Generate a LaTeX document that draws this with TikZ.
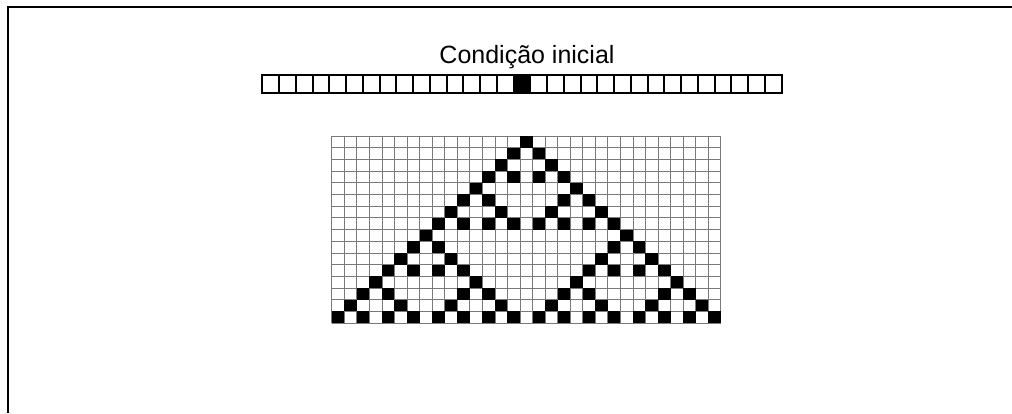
\documentclass[tikz,border=0pt]{standalone}
\usepackage{fontspec}
\setmainfont{Liberation Sans}
\usepackage{tikz}
\usetikzlibrary{positioning}
\definecolor{Ink}{HTML}{000000}
\definecolor{GridLine}{HTML}{7A7A7A}
\tikzset{
  moldura/.style={draw=Ink,line width=2pt},
  celula/.style={draw=Ink,line width=2pt,fill=white},
  viva/.style={fill=Ink},
  grade/.style={draw=GridLine,line width=0.7pt},
  titulo/.style={text=Ink,font=\fontsize{25}{30}\selectfont,inner sep=0pt,anchor=base}
}

\begin{document}
\begin{tikzpicture}[x=1pt,y=-1pt]
\useasboundingbox (0,0) rectangle (1012,413);
\draw[moldura] (8,413)--(8,7)--(1012,7);
\node[titulo] (cond) at (527,63) {Condição inicial};
% linha da condicao inicial
\foreach \i in {0,...,30}{
  \draw[celula] ({262.3+16.75*\i},75) rectangle ({262.3+16.75*(\i+1)},93);
}
\fill[viva] ({262.3+16.75*15},75) rectangle ({262.3+16.75*16},93);
\draw[celula,fill=Ink] ({262.3+16.75*15},75) rectangle ({262.3+16.75*16},93);
% evolucao (regra 90)
\foreach \i in {0,...,31}{\draw[grade] ({331.7+12.55*\i},136)--({331.7+12.55*\i},323);}
\foreach \j in {0,...,16}{\draw[grade] (331.7,{136+11.69*\j})--(720.75,{136+11.69*\j});}
\foreach \r/\cs in {0/{15},1/{14,16},2/{13,17},3/{12,14,16,18},4/{11,19},5/{10,12,18,20},6/{9,13,17,21},7/{8,10,12,14,16,18,20,22},8/{7,23},9/{6,8,22,24},10/{5,9,21,25},11/{4,6,8,10,20,22,24,26},12/{3,11,19,27},13/{2,4,10,12,18,20,26,28},14/{1,5,9,13,17,21,25,29},15/{0,2,4,6,8,10,12,14,16,18,20,22,24,26,28,30}}{
  \foreach \c in \cs{
    \fill[viva] ({331.7+12.55*\c},{136+11.69*\r}) rectangle ({331.7+12.55*(\c+1)},{136+11.69*(\r+1)});
  }
}
\end{tikzpicture}
\end{document}
